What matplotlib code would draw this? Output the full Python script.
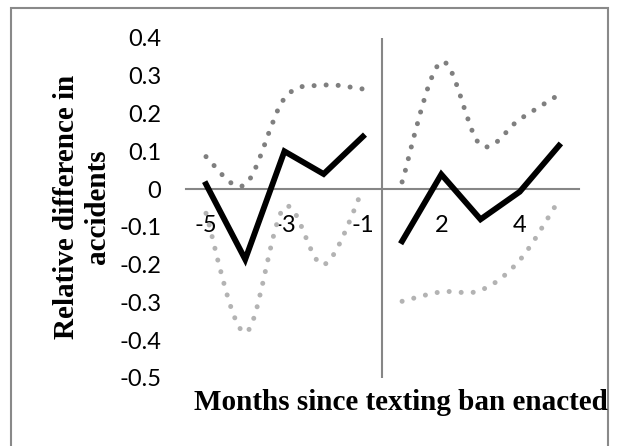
import numpy as np
import matplotlib
matplotlib.use('Agg')
import matplotlib.pyplot as plt
from matplotlib.path import Path
from matplotlib.patches import PathPatch, Rectangle

# months relative to the ban (no month 0 on the category axis)
months = [-5, -4, -3, -2, -1, 1, 2, 3, 4, 5]
estimate = [0.013, -0.186, 0.10, 0.04, 0.139, -0.138, 0.039, -0.080, -0.007, 0.115]
upper = [0.086, 0.012, 0.24, 0.275, 0.265, 0.019, 0.337, 0.117, 0.185, 0.25]
lower = [-0.064, -0.38, -0.048, -0.20, 0.0, -0.297, -0.272, -0.268, -0.188, -0.029]
y_ticks = [-0.5, -0.4, -0.3, -0.2, -0.1, 0.0, 0.1, 0.2, 0.3, 0.4]
y_labels = ['-0.5', '-0.4', '-0.3', '-0.2', '-0.1', '0', '0.1', '0.2', '0.3', '0.4']


def smooth_path(xs, ys):
    """Excel style smoothed line through the points (bezier segments)."""
    pts = np.column_stack([xs, ys]).astype(float)
    n = len(pts)
    verts = [pts[0]]
    codes = [Path.MOVETO]
    for i in range(n - 1):
        p0 = pts[max(i - 1, 0)]
        p1 = pts[i]
        p2 = pts[i + 1]
        p3 = pts[min(i + 2, n - 1)]
        verts += [p1 + (p2 - p0) / 6, p2 - (p3 - p1) / 6, p2]
        codes += [Path.CURVE4] * 3
    return Path(verts, codes)


x = np.arange(len(months))
segments = [slice(0, 5), slice(5, 10)]

fig = plt.figure(figsize=(6.18, 4.46), dpi=100)
ax = fig.add_axes([0.3016, 0.1525, 0.6346, 0.7623])
ax.set_xlim(-0.5, 9.5)
ax.set_ylim(-0.5, 0.4)

for seg in segments:
    xs = x[seg]
    for vals, col in [(upper, '#7f7f7f'), (lower, '#b3b3b3')]:
        patch = PathPatch(smooth_path(xs, np.array(vals)[seg]), fill=False,
                          edgecolor=col, lw=3.6, linestyle=(0, (0.01, 2.4)),
                          capstyle='round', zorder=2)
        ax.add_patch(patch)
    ax.plot(xs, np.array(estimate)[seg], color='black', lw=4.2,
            solid_joinstyle='miter', zorder=3)

ax.axvline(4.5, color='#868686', lw=1.5, zorder=1)

for side in ['top', 'right', 'left']:
    ax.spines[side].set_visible(False)
ax.spines['bottom'].set_position(('data', 0))
ax.spines['bottom'].set_color('#868686')
ax.spines['bottom'].set_linewidth(1.5)
ax.spines['bottom'].set_zorder(1)

ax.set_xticks(x[::2])
ax.set_xticklabels([str(m) for m in months[::2]], fontfamily='Lato', fontsize=17)
ax.set_yticks(y_ticks)
ax.set_yticklabels(y_labels, fontfamily='Lato', fontsize=17)
ax.tick_params(axis='both', length=0)
ax.tick_params(axis='x', pad=19)
ax.tick_params(axis='y', pad=18)

fig.text(194 / 618, 1 - 410 / 446, 'Months since texting ban enacted',
         family='Liberation Serif', weight='bold', size=21,
         ha='left', va='baseline')
fig.text(82 / 618, 1 - 207 / 446, 'Relative difference in\naccidents',
         family='Liberation Serif', weight='bold', size=21, rotation=90,
         ha='center', va='center', multialignment='center', linespacing=1.15)

fig.add_artist(Rectangle((11 / 618, -0.1), (607.7 - 11) / 618, 1.1 - 8 / 446,
                         transform=fig.transFigure, fill=False,
                         edgecolor='#898989', lw=1.5))

fig.savefig('out.png', dpi=100)
